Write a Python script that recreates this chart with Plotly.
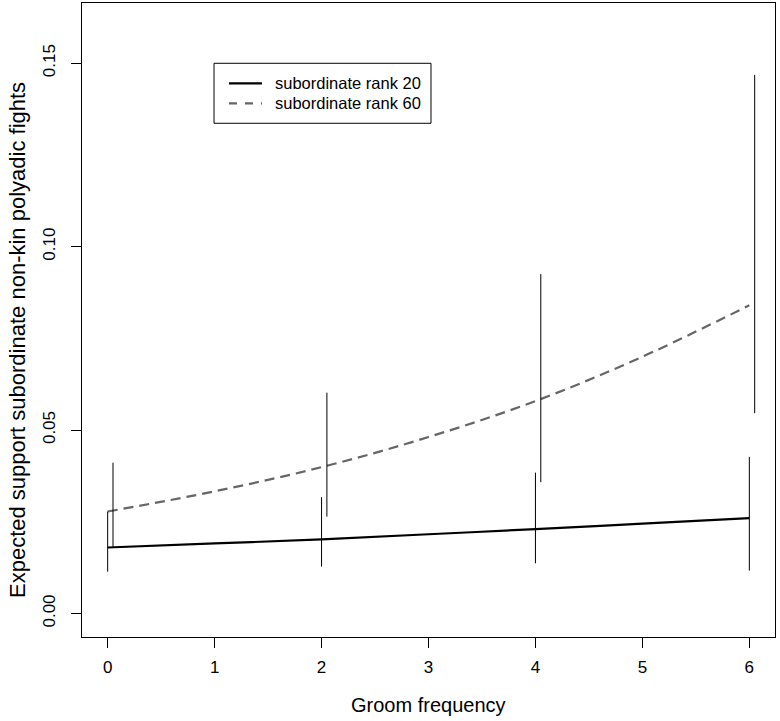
import plotly.graph_objects as go

# groom frequency and fitted curves
groom = [0, 1, 2, 3, 4, 5, 6]
rank20_fit = [0.0180, 0.0191, 0.0202, 0.0216, 0.0230, 0.0245, 0.0260]
rank60_fit = [0.0278, 0.0333, 0.0399, 0.0481, 0.0579, 0.0700, 0.0840]

# confidence intervals at the observed groom levels
ci_x = [0, 2, 4, 6]
rank20_lo = [0.0114, 0.0128, 0.0137, 0.0117]
rank20_hi = [0.0278, 0.0317, 0.0384, 0.0427]
rank60_lo = [0.0182, 0.0264, 0.0358, 0.0546]
rank60_hi = [0.0411, 0.0602, 0.0925, 0.1468]
offset = 0.05  # rank 60 bars nudged right

xticks = [0, 1, 2, 3, 4, 5, 6]
yticks = [0.00, 0.05, 0.10, 0.15]
ylabels = ["0.00", "0.05", "0.10", "0.15"]

FONT = "Liberation Sans, Arial, sans-serif"
GREY = "#666666"


def segments(xs, lo, hi, dx=0.0):
    sx, sy = [], []
    for x, a, b in zip(xs, lo, hi):
        sx += [x + dx, x + dx, None]
        sy += [a, b, None]
    return sx, sy


fig = go.Figure()

fig.add_trace(go.Scatter(
    x=groom, y=rank20_fit, mode="lines", line=dict(color="black", width=2.2, shape="spline"),
    hoverinfo="skip",
))
fig.add_trace(go.Scatter(
    x=groom, y=rank60_fit, mode="lines",
    line=dict(color=GREY, width=2.2, dash="10px,6px", shape="spline"),
    hoverinfo="skip",
))

sx, sy = segments(ci_x, rank20_lo, rank20_hi)
fig.add_trace(go.Scatter(x=sx, y=sy, mode="lines", line=dict(color="black", width=1), hoverinfo="skip"))
sx, sy = segments(ci_x, rank60_lo, rank60_hi, offset)
fig.add_trace(go.Scatter(x=sx, y=sy, mode="lines", line=dict(color="black", width=1), hoverinfo="skip"))

# legend drawn by hand (R-style box)
fig.add_shape(type="rect", xref="paper", yref="paper", x0=0.1905, x1=0.5036, y0=0.8103, y1=0.9049,
              line=dict(color="black", width=1), fillcolor="white")
fig.add_shape(type="line", xref="paper", yref="paper", x0=0.2121, x1=0.2597, y0=0.8733, y1=0.8733,
              line=dict(color="black", width=2.2))
fig.add_shape(type="line", xref="paper", yref="paper", x0=0.2121, x1=0.2597, y0=0.8418, y1=0.8418,
              line=dict(color=GREY, width=2.2, dash="8px,8px"))
for txt, yy in [("subordinate rank 20", 0.8733), ("subordinate rank 60", 0.8418)]:
    fig.add_annotation(text=txt, xref="paper", yref="paper", x=0.2757, y=yy, xanchor="left",
                       yanchor="middle", showarrow=False, font=dict(size=16.5, color="black", family=FONT))

fig.add_annotation(text="Groom frequency", xref="paper", yref="paper", x=0.5, y=-0.107,
                   xanchor="center", yanchor="middle", showarrow=False,
                   font=dict(size=20, color="black", family=FONT))
fig.add_annotation(text="Expected support subordinate non-kin polyadic fights", xref="paper", yref="paper",
                   x=-0.0938, y=0.5, yshift=-20, textangle=-90, xanchor="center", yanchor="middle",
                   showarrow=False, font=dict(size=22, color="black", family=FONT))

fig.update_layout(
    width=780, height=721,
    margin=dict(l=82, r=5, t=3, b=84, autoexpand=False),
    paper_bgcolor="white", plot_bgcolor="white",
    showlegend=False,
    font=dict(family=FONT, size=17, color="black"),
    xaxis=dict(range=[-0.24, 6.24], tickvals=xticks, ticks="outside", ticklen=10, tickcolor="black",
               showline=True, linecolor="black", linewidth=1, mirror=True, showgrid=False, zeroline=False,
               automargin=False, ticklabelstandoff=5, tickfont=dict(size=17)),
    yaxis=dict(range=[-0.0064, 0.1664], tickvals=yticks, ticktext=ylabels, tickangle=-90,
               ticks="outside", ticklen=10, tickcolor="black",
               showline=True, linecolor="black", linewidth=1, mirror=True, showgrid=False, zeroline=False,
               automargin=False, ticklabelstandoff=9, tickfont=dict(size=17)),
)

# page body has a default 8px margin; drop it so the figure fills the window
fig.write_html("out.html", config={"displayModeBar": False},
               post_script="document.body.style.margin='0';")
